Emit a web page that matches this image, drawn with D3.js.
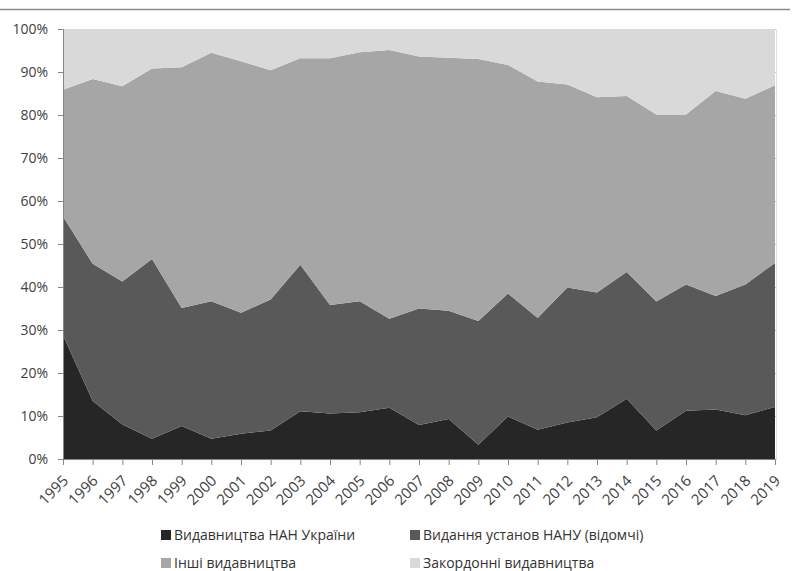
<html>
  <head>
    <meta charset="utf-8" />
    <script src="https://d3js.org/d3.v7.min.js"></script>
    <style>
      body { margin: 0; background: #fff; }
      text { font-family: "Open Sans", sans-serif; fill: #404040; }
    </style>
  </head>
  <body>
    <div id="vis"></div>
    <script>
      // Data (percent shares by year)
      var years = [1995, 1996, 1997, 1998, 1999, 2000, 2001, 2002, 2003, 2004, 2005, 2006, 2007,
        2008, 2009, 2010, 2011, 2012, 2013, 2014, 2015, 2016, 2017, 2018, 2019];
      var seriesNames = ["Видавництва НАН України", "Видання установ НАНУ (відомчі)",
        "Інші видавництва", "Закордонні видавництва"];
      var nanPublishers = [28.8, 13.5, 8.0, 4.7, 7.7, 4.7, 5.9, 6.6, 11.1, 10.6, 10.9, 11.9, 7.9,
        9.3, 3.3, 9.9, 6.8, 8.5, 9.7, 14.0, 6.6, 11.2, 11.5, 10.2, 12.1];
      var institutes = [27.6, 31.9, 33.3, 41.8, 27.4, 32.0, 28.1, 30.5, 34.1, 25.2, 25.8, 20.7, 27.1,
        25.2, 28.8, 28.6, 26.0, 31.4, 29.0, 29.5, 30.0, 29.4, 26.4, 30.4, 33.5];
      var otherPublishers = [29.5, 43.0, 45.4, 44.3, 56.0, 57.8, 58.5, 53.3, 48.0, 57.4, 57.9, 62.5, 58.6,
        58.8, 60.9, 53.1, 55.0, 47.2, 45.4, 40.9, 43.5, 39.5, 47.7, 43.2, 41.3];
      var foreignPublishers = [14.1, 11.6, 13.3, 9.2, 8.9, 5.5, 7.5, 9.6, 6.8, 6.8, 5.4, 4.9, 6.4,
        6.7, 7.0, 8.4, 12.2, 12.9, 15.9, 15.6, 19.9, 19.9, 14.4, 16.2, 13.1];
      var yTicks = [0, 0.1, 0.2, 0.3, 0.4, 0.5, 0.6, 0.7, 0.8, 0.9, 1];

      var colors = ["#262626", "#595959", "#a6a6a6", "#d9d9d9"];
      var seriesData = [nanPublishers, institutes, otherPublishers, foreignPublishers];

      var rows = years.map(function (y, i) {
        var r = { year: y };
        seriesNames.forEach(function (n, k) { r[n] = seriesData[k][i]; });
        return r;
      });

      var W = 793, H = 571;
      var margin = { top: 29, right: 18, bottom: 112, left: 63 };
      var width = W - margin.left - margin.right;
      var height = H - margin.top - margin.bottom;

      var svg = d3.select("#vis").append("svg")
        .attr("width", W).attr("height", H);

      // top rule
      svg.append("line")
        .attr("x1", 0).attr("x2", 790).attr("y1", 9.5).attr("y2", 9.5)
        .attr("stroke", "#8c8c8c").attr("stroke-width", 1.5);

      var g = svg.append("g")
        .attr("transform", "translate(" + margin.left + "," + margin.top + ")");

      var x = d3.scaleLinear().domain(d3.extent(years)).range([0, width]);
      var y = d3.scaleLinear().domain([0, 1]).range([height, 0]);

      // gridline stubs behind areas
      g.selectAll(".grid").data(yTicks).enter().append("line")
        .attr("x1", 0).attr("x2", width + 2)
        .attr("y1", function (d) { return Math.round(y(d)) + 0.5; })
        .attr("y2", function (d) { return Math.round(y(d)) + 0.5; })
        .attr("stroke", "#c8c8c8");
      g.append("line")
        .attr("x1", width + 1.5).attr("x2", width + 1.5)
        .attr("y1", 0).attr("y2", height)
        .attr("stroke", "#e0e0e0");

      var stack = d3.stack().keys(seriesNames).offset(d3.stackOffsetExpand);
      var layers = stack(rows);

      var area = d3.area()
        .x(function (d) { return x(d.data.year); })
        .y0(function (d) { return y(d[0]); })
        .y1(function (d) { return y(d[1]); });

      g.selectAll(".layer").data(layers).enter().append("path")
        .attr("d", area)
        .attr("fill", function (d, i) { return colors[i]; });

      // y axis
      var yAxis = g.append("g")
        .call(d3.axisLeft(y).tickValues(yTicks).tickFormat(d3.format(".0%")).tickSize(5).tickPadding(10));
      yAxis.select(".domain").attr("stroke", "#868686");
      yAxis.selectAll(".tick line").attr("stroke", "#868686");
      yAxis.selectAll("text").style("font-size", "14px").style("font-family", "Open Sans");

      // x axis
      var xAxis = g.append("g")
        .attr("transform", "translate(0," + height + ")")
        .call(d3.axisBottom(x).tickValues(years).tickFormat(d3.format("d")).tickSize(6).tickSizeOuter(0));
      xAxis.select(".domain").attr("stroke", "#868686");
      xAxis.selectAll(".tick line").attr("stroke", "#868686");
      xAxis.selectAll("text")
        .style("font-size", "15px")
        .style("font-family", "Open Sans")
        .attr("text-anchor", "end")
        .attr("dy", "0.35em")
        .attr("transform", "translate(2,19) rotate(-45)")
        .attr("x", 0).attr("y", 0);

      // legend
      var legendPos = [[161, 530], [410, 530], [161, 558], [410, 558]];
      var legend = svg.selectAll(".legend").data(seriesNames).enter().append("g")
        .attr("transform", function (d, i) { return "translate(" + legendPos[i][0] + "," + legendPos[i][1] + ")"; });
      legend.append("rect")
        .attr("width", 10).attr("height", 10)
        .attr("fill", function (d, i) { return colors[i]; });
      legend.append("text")
        .attr("x", 13).attr("y", 10)
        .style("font-size", "14px")
        .style("fill", "#333")
        .text(function (d) { return d; });
    </script>
  </body>
</html>
